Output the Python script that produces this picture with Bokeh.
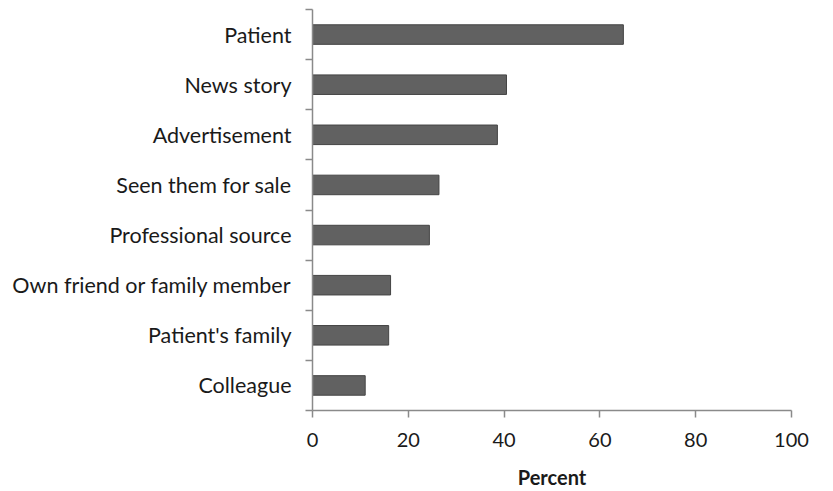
import numpy as np
from bokeh.plotting import figure
from bokeh.models import Range1d, FixedTicker, LinearAxis
from bokeh.embed import file_html
from bokeh.resources import INLINE

# data (bottom to top)
categories = ["Colleague", "Patient's family", "Own friend or family member",
              "Professional source", "Seen them for sale", "Advertisement",
              "News story", "Patient"]
percent = [11.0, 15.9, 16.3, 24.4, 26.4, 38.6, 40.5, 64.9]
x_ticks = [0, 20, 40, 60, 80, 100]

n = len(categories)
pos = list(np.arange(n) + 0.5)

FONT = "Lato"
p = figure(frame_width=479, frame_height=401, output_backend="svg", toolbar_location=None,
           x_range=Range1d(0, 100), y_range=Range1d(0, n),
           x_axis_location=None, y_axis_location=None,
           min_border_left=312, min_border_top=9, min_border_right=34, min_border_bottom=0)
p.outline_line_color = None
p.xgrid.visible = False
p.ygrid.visible = False
p.background_fill_color = "white"
p.border_fill_color = "white"

p.hbar(y=pos, right=percent, left=0, height=0.39,
       fill_color="#616161", line_color="#444444", line_width=1)

AX = "#8a8a8a"
yax = LinearAxis(ticker=FixedTicker(ticks=pos, minor_ticks=list(range(n + 1))))
yax.major_label_overrides = {float(v): c for v, c in zip(pos, categories)}
yax.major_tick_line_color = None
yax.major_tick_out = 0
yax.major_tick_in = 0
yax.minor_tick_out = 7
yax.minor_tick_in = 0
yax.minor_tick_line_color = AX
yax.minor_tick_line_width = 1.5
yax.axis_line_color = AX
yax.axis_line_width = 1.5
yax.major_label_standoff = 14
yax.major_label_text_font = FONT
yax.major_label_text_font_size = "21.5px"
yax.major_label_text_color = "#1a1a1a"
p.add_layout(yax, "left")

xax = LinearAxis(ticker=FixedTicker(ticks=x_ticks))
xax.axis_label = "Percent"
xax.axis_label_text_font = FONT
xax.axis_label_text_font_style = "bold"
xax.axis_label_text_font_size = "20px"
xax.axis_label_text_color = "#1a1a1a"
xax.axis_label_standoff = 15
xax.major_tick_out = 7
xax.major_tick_in = 0
xax.minor_tick_line_color = None
xax.major_tick_line_color = AX
xax.major_tick_line_width = 1.5
xax.axis_line_color = AX
xax.axis_line_width = 1.5
xax.major_label_standoff = 15
xax.major_label_text_font = FONT
xax.major_label_text_font_size = "20px"
xax.major_label_text_color = "#1a1a1a"
p.add_layout(xax, "below")

open("out.html", "w").write(file_html(p, INLINE))
